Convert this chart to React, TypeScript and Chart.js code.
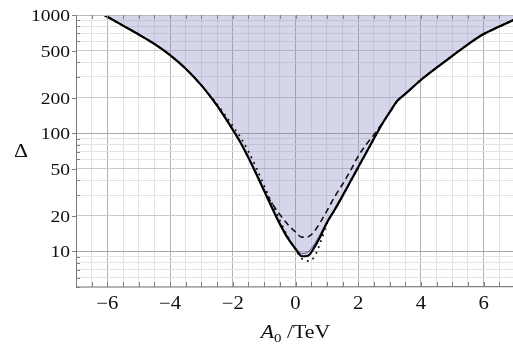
import { useEffect, useRef } from 'react';
import { Chart, registerables } from 'chart.js';

Chart.register(...registerables);

// ---- data ----
const A0 = [-6.1, -5.5, -5, -4.5, -4, -3.5, -3, -2.75, -2.5, -2.25, -2, -1.75, -1.5, -1.25, -1, -0.75, -0.5, -0.25, 0, 0.2, 0.4, 0.6, 0.8, 1, 1.25, 1.5, 1.75, 2, 2.25, 2.5, 2.75, 3, 3.25, 3.5, 4, 4.5, 5, 5.5, 6, 6.5, 7];
const deltaSolid = [1000, 813, 684, 569, 457, 351, 254, 210, 171, 136, 107, 83, 62, 45.2, 32.5, 23.4, 17.1, 13, 10.5, 9.1, 9.2, 10.8, 13.5, 17.5, 22.5, 29.5, 39, 51.5, 68, 90, 118, 150, 188, 215, 282, 358, 450, 565, 690, 800, 920];
const deltaDashed = [1000, 813, 684, 569, 457, 351, 254, 210, 171, 136, 107, 83, 62, 45.5, 33, 25.5, 20.5, 17, 14.6, 13.2, 13.3, 14.8, 17.8, 22, 29, 37, 48, 64, 80, 97, 120, 150, 188, 215, 282, 358, 450, 565, 690, 800, 920];
const deltaDotted = [1000, 813, 684, 569, 457, 351, 254, 212, 176, 143, 115, 92, 70, 51, 36, 25.5, 18.3, 13.4, 10.4, 8.7, 8.3, 9.0, 12.0, 17.2, 22.5, 29.5, 39, 51.5, 68, 90, 118, 150, 188, 215, 282, 358, 450, 565, 690, 800, 920];
const edgeA0 = [-0.25, 0, 0.2, 0.4, 0.6, 0.8, 1];
const edgeDelta = [13.1, 10.7, 9.6, 9.9, 11.5, 14.2, 17.7];

const xLabelValues = [-6, -4, -2, 0, 2, 4, 6];
const yLabelValues = [10, 20, 50, 100, 200, 500, 1000];
const yGridValues = [5, 6, 7, 8, 9, 10, 20, 30, 40, 50, 60, 70, 80, 90, 100, 200, 300, 400, 500, 600, 700, 800, 900, 1000];
const xGridValues = [-7, -6.5, -6, -5.5, -5, -4.5, -4, -3.5, -3, -2.5, -2, -1.5, -1, -0.5, 0, 0.5, 1, 1.5, 2, 2.5, 3, 3.5, 4, 4.5, 5, 5.5, 6, 6.5, 7];

const X_MIN = -7;
const X_MAX = 7;
const Y_MIN = 5;
const Y_MAX = 1000;

const W = 515;
const H = 349;
const SERIF = '"Liberation Serif", "Times New Roman", serif';
const STRETCH = 1.15;

const pts = (xs: number[], ys: number[]) => xs.map((x, i) => ({ x, y: ys[i] }));

function drawStretched(ctx: CanvasRenderingContext2D, text: string, x: number, y: number, align: CanvasTextAlign, font: string) {
  ctx.save();
  ctx.font = font;
  ctx.textAlign = align;
  ctx.textBaseline = 'alphabetic';
  ctx.translate(x, y);
  ctx.scale(STRETCH, 1);
  ctx.fillText(text, 0, 0);
  ctx.restore();
}

const decor = {
  id: 'decor',
  afterDraw(chart: any) {
    const { ctx, chartArea: a, scales } = chart;
    const x = scales.x;
    const y = scales.y;
    ctx.save();
    // frame
    ctx.lineWidth = 1;
    ctx.strokeStyle = '#b8b8b8';
    ctx.beginPath();
    ctx.moveTo(a.left, a.top + 0.5);
    ctx.lineTo(a.right, a.top + 0.5);
    ctx.moveTo(a.right - 0.5, a.top);
    ctx.lineTo(a.right - 0.5, a.bottom);
    ctx.stroke();
    ctx.strokeStyle = '#7a7a7a';
    ctx.beginPath();
    ctx.moveTo(a.left + 0.5, a.top);
    ctx.lineTo(a.left + 0.5, a.bottom);
    ctx.lineTo(a.right, a.bottom - 0.5);
    ctx.stroke();
    // x ticks (inward, bottom and top)
    ctx.strokeStyle = '#808080';
    ctx.beginPath();
    xGridValues.forEach((v) => {
      const px = Math.round(x.getPixelForValue(v)) + 0.5;
      ctx.moveTo(px, a.bottom);
      ctx.lineTo(px, a.bottom - 5);
      ctx.moveTo(px, a.top);
      ctx.lineTo(px, a.top + 4);
    });
    // y ticks
    yGridValues.forEach((v) => {
      const py = Math.round(y.getPixelForValue(v)) + 0.5;
      if (yLabelValues.includes(v)) {
        ctx.moveTo(a.left - 4, py);
        ctx.lineTo(a.left, py);
      } else {
        ctx.moveTo(a.left, py);
        ctx.lineTo(a.left + 4, py);
      }
    });
    ctx.stroke();

    // labels
    ctx.fillStyle = '#111';
    yLabelValues.forEach((v) => {
      const py = y.getPixelForValue(v);
      drawStretched(ctx, String(v), a.left - 6, py + 6, 'right', `17px ${SERIF}`);
    });
    xLabelValues.forEach((v) => {
      const px = x.getPixelForValue(v);
      const t = v < 0 ? '\u2212' + Math.abs(v) : String(v);
      drawStretched(ctx, t, px, 309, 'center', `18px ${SERIF}`);
    });
    // y title
    drawStretched(ctx, '\u0394', 21, 157, 'center', `19px ${SERIF}`);
    // x title: A_0 /TeV
    const segs = [
      { t: 'A', f: `italic 19px ${SERIF}`, dy: 0 },
      { t: '0', f: `13px ${SERIF}`, dy: 4 },
      { t: ' /TeV', f: `19px ${SERIF}`, dy: 0 },
    ];
    let total = 0;
    const widths = segs.map((s) => {
      ctx.font = s.f;
      const w = ctx.measureText(s.t).width;
      total += w;
      return w;
    });
    let cx = x.getPixelForValue(0) - (total * STRETCH) / 2;
    segs.forEach((s, i) => {
      drawStretched(ctx, s.t, cx, 338 + s.dy, 'left', s.f);
      cx += widths[i] * STRETCH;
    });
    ctx.restore();
  },
};

export default function App() {
  const ref = useRef<HTMLCanvasElement | null>(null);
  useEffect(() => {
    if (!ref.current) return;
    const chart = new Chart(ref.current, {
      type: 'line',
      data: {
        datasets: [
          {
            label: 'solid',
            data: pts(A0, deltaSolid),
            borderColor: '#000',
            borderWidth: 2.2,
            pointRadius: 0,
            cubicInterpolationMode: 'monotone',
            fill: 'end',
            backgroundColor: 'rgba(120,120,190,0.3)',
          },
          {
            label: 'edge',
            data: pts(edgeA0, edgeDelta),
            borderColor: 'rgba(70,70,120,0.9)',
            borderWidth: 1,
            pointRadius: 0,
            cubicInterpolationMode: 'monotone',
            fill: false,
          },
          {
            label: 'dashed',
            data: pts(A0, deltaDashed),
            borderColor: '#111',
            borderWidth: 1.6,
            borderDash: [6, 4],
            pointRadius: 0,
            cubicInterpolationMode: 'monotone',
            fill: false,
          },
          {
            label: 'dotted',
            data: pts(A0, deltaDotted),
            borderColor: '#111',
            borderWidth: 1.8,
            borderDash: [1.8, 4.5],
            pointRadius: 0,
            cubicInterpolationMode: 'monotone',
            fill: false,
          },
        ],
      },
      options: {
        responsive: false,
        maintainAspectRatio: false,
        devicePixelRatio: 1,
        animation: false,
        layout: { padding: { top: 15, left: 0, right: 0, bottom: 0 } },
        plugins: {
          legend: { display: false },
          tooltip: { enabled: false },
          filler: { drawTime: 'beforeDatasetsDraw' },
        },
        scales: {
          x: {
            type: 'linear',
            min: X_MIN,
            max: X_MAX,
            afterBuildTicks: (s: any) => {
              s.ticks = xGridValues.map((v) => ({ value: v }));
            },
            afterFit: (s: any) => {
              s.height = 62;
            },
            ticks: { display: false },
            border: { display: false },
            grid: {
              drawTicks: false,
              lineWidth: 1,
              color: (c: any) => {
                const v = c.tick ? c.tick.value : 0;
                return Math.abs(v % 2) < 1e-9 ? '#b4b4b4' : '#e2e2e2';
              },
            },
          },
          y: {
            type: 'logarithmic',
            min: Y_MIN,
            max: Y_MAX,
            afterBuildTicks: (s: any) => {
              s.ticks = yGridValues.map((v) => ({ value: v }));
            },
            afterFit: (s: any) => {
              s.width = 76;
            },
            ticks: { display: false },
            border: { display: false },
            grid: {
              drawTicks: false,
              lineWidth: 1,
              color: (c: any) => {
                const v = c.tick ? c.tick.value : 0;
                if (v === 10 || v === 100 || v === 1000) return '#a8a8a8';
                if (v === 20 || v === 50 || v === 200 || v === 500) return '#cacaca';
                return '#e4e4e4';
              },
            },
          },
        },
      },
      plugins: [decor],
    } as any);
    return () => chart.destroy();
  }, []);

  return (
    <div style={{ position: 'absolute', left: 0, top: 0, width: 513, height: H, overflow: 'hidden', background: '#fff' }}>
      <canvas ref={ref} width={W} height={H} style={{ display: 'block', width: W, height: H }} />
    </div>
  );
}
